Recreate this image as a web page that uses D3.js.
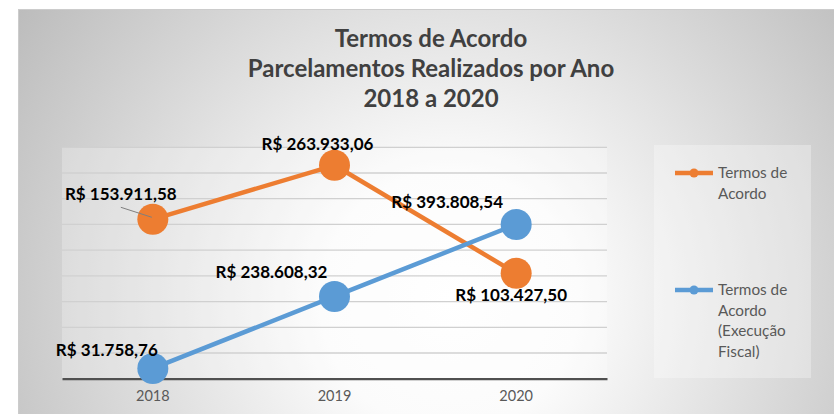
<!DOCTYPE html>
<html>
<head>
<meta charset="utf-8">
<script src="https://cdn.jsdelivr.net/npm/d3@7"></script>
<style>
  html, body { margin: 0; padding: 0; background: #ffffff; }
  svg { display: block; font-family: Lato, "Open Sans", sans-serif; }
</style>
</head>
<body>
<svg id="chart" width="834" height="414"></svg>
<script>
"use strict";

// Chart values.
const years = ["2018", "2019", "2020"];
const seriesNames = ["Termos de Acordo", "Termos de Acordo (Execução Fiscal)"];
// Level of each point against the chart's hidden vertical axis (gridline units of 10).
const acordoLevel = [62, 83, 41];
const execucaoLevel = [4, 32, 60];
// The values printed in the data labels.
const acordoLabels = ["R$ 153.911,58", "R$ 263.933,06", "R$ 103.427,50"];
const execucaoLabels = ["R$ 31.758,76", "R$ 238.608,32", "R$ 393.808,54"];
const titleLines = ["Termos de Acordo", "Parcelamentos Realizados por Ano", "2018 a 2020"];
const legendLines = [["Termos de", "Acordo"], ["Termos de", "Acordo", "(Execução", "Fiscal)"]];

const svg = d3.select("#chart");
const colors = ["#ED7D31", "#5B9BD5"];

// Background: radial grey-to-white gradient like the Excel chart style.
let defs = svg.append("defs");
let grad = defs.append("radialGradient")
    .attr("id", "bg_grad")
    .attr("gradientUnits", "userSpaceOnUse")
    .attr("cx", 450).attr("cy", 300).attr("r", 520);
grad.append("stop").attr("offset", "0%").attr("stop-color", "#ffffff");
grad.append("stop").attr("offset", "25%").attr("stop-color", "#fbfbfb");
grad.append("stop").attr("offset", "100%").attr("stop-color", "#bcbcbc");

svg.append("rect")
    .attr("x", 18.5).attr("y", 9.5)
    .attr("width", 830).attr("height", 420)
    .style("fill", "url(#bg_grad)")
    .style("stroke", "#cccccc")
    .style("stroke-width", 1);

// Plot area.
const plot = {left: 62, right: 607, top: 147.3, bottom: 378.7};

svg.append("rect")
    .attr("x", plot.left).attr("y", plot.top)
    .attr("width", plot.right - plot.left).attr("height", plot.bottom - plot.top)
    .style("fill", "#ffffff").style("fill-opacity", 0.25);

let x = d3.scaleBand().domain(years).range([plot.left, plot.right]);
let y = d3.scaleLinear().domain([0, 90]).range([plot.bottom, plot.top]);
const xc = function(d) { return x(d) + x.bandwidth() / 2; };

// Gridlines (no tick labels on the value axis).
svg.append("g")
    .selectAll("line")
    .data(d3.range(10, 91, 10))
    .enter().append("line")
        .attr("x1", plot.left).attr("x2", plot.right)
        .attr("y1", function(d) { return y(d); })
        .attr("y2", function(d) { return y(d); })
        .style("stroke", "#d0d0d0")
        .style("stroke-width", 1.3);

// Category axis.
let xAxis = svg.append("g")
    .attr("transform", "translate(0," + plot.bottom + ")")
    .call(d3.axisBottom(x).tickSize(0).tickPadding(12));
xAxis.select(".domain")
    .style("stroke", "#505050")
    .style("stroke-width", 2.2);
xAxis.selectAll("text")
    .style("font-family", "Lato, sans-serif")
    .style("font-size", "14.5px")
    .style("fill", "#595959");

// Title.
svg.append("g")
    .selectAll("text")
    .data(titleLines)
    .enter().append("text")
        .attr("x", 431)
        .attr("y", function(d, i) { return 47 + i * 30; })
        .attr("text-anchor", "middle")
        .style("font-size", "24px")
        .style("font-weight", "bold")
        .style("fill", "#404040")
        .text(function(d) { return d; });

// Lines and markers.
const series = [
    {values: acordoLevel, labels: acordoLabels, color: colors[0]},
    {values: execucaoLevel, labels: execucaoLabels, color: colors[1]}
];

let line = d3.line()
    .x(function(d, i) { return xc(years[i]); })
    .y(function(d) { return y(d); });

series.forEach(function(s) {
    svg.append("path")
        .datum(s.values)
        .attr("d", line)
        .style("fill", "none")
        .style("stroke", s.color)
        .style("stroke-width", 4.5)
        .style("stroke-linejoin", "round");
});

series.forEach(function(s) {
    svg.append("g")
        .selectAll("circle")
        .data(s.values)
        .enter().append("circle")
            .attr("cx", function(d, i) { return xc(years[i]); })
            .attr("cy", function(d) { return y(d); })
            .attr("r", 15.5)
            .style("fill", s.color);
});

// Data label placement relative to each marker (dx = label centre, dy = baseline).
const labelOffsets = [
    [[-32, -19, true], [-17, -15, false], [-5, 28, false]],
    [[-46, -12, false], [-63, -18, false], [-69, -16, false]]
];

series.forEach(function(s, si) {
    let g = svg.append("g");
    s.values.forEach(function(v, i) {
        let px = xc(years[i]), py = y(v);
        let off = labelOffsets[si][i];
        if (off[2]) {
            g.append("line")
                .attr("x1", px + off[0]).attr("y1", py + off[1] + 7)
                .attr("x2", px - 1).attr("y2", py - 2)
                .style("stroke", "#7f7f7f")
                .style("stroke-width", 1);
        }
        g.append("text")
            .attr("x", px + off[0])
            .attr("y", py + off[1])
            .attr("text-anchor", "middle")
            .style("font-size", "17px")
            .style("font-weight", "bold")
            .style("fill", "#000000")
            .text(s.labels[i]);
    });
});

// Legend.
svg.append("rect")
    .attr("x", 654).attr("y", 145)
    .attr("width", 157).attr("height", 233)
    .style("fill", "#ffffff").style("fill-opacity", 0.3);

const legendY = [173, 290];
seriesNames.forEach(function(name, i) {
    let g = svg.append("g").attr("transform", "translate(0," + legendY[i] + ")");
    g.append("line")
        .attr("x1", 675).attr("x2", 713)
        .attr("y1", 0).attr("y2", 0)
        .style("stroke", colors[i])
        .style("stroke-width", 4.5);
    g.append("circle")
        .attr("cx", 694).attr("cy", 0).attr("r", 4.5)
        .style("fill", colors[i]);
    g.selectAll("text")
        .data(legendLines[i])
        .enter().append("text")
            .attr("x", 718)
            .attr("y", function(d, j) { return 5 + j * 20.7; })
            .style("font-size", "15.3px")
            .style("fill", "#595959")
            .text(function(d) { return d; });
});
</script>
</body>
</html>
